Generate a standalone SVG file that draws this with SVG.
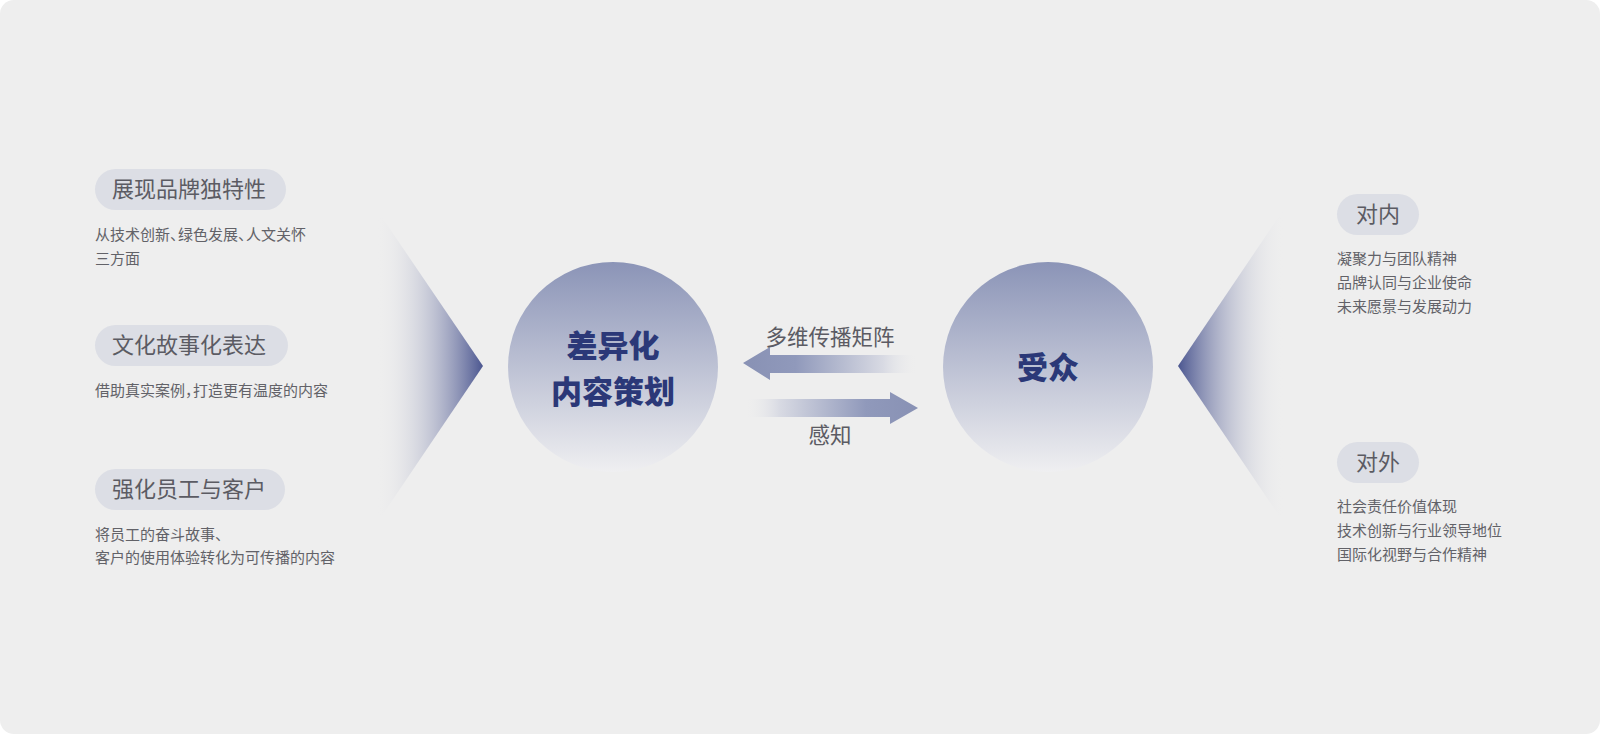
<svg xmlns="http://www.w3.org/2000/svg" width="1600" height="734" viewBox="0 0 1600 734">
<defs>
<linearGradient id="gCircle" x1="0" y1="0" x2="0" y2="1">
<stop offset="0" stop-color="#8b94b7"/>
<stop offset="1" stop-color="#efeff1"/>
</linearGradient>
<linearGradient id="gTriL" gradientUnits="userSpaceOnUse" x1="377" y1="0" x2="483" y2="0">
<stop offset="0" stop-color="#eeeeee" stop-opacity="0"/>
<stop offset="1" stop-color="#4b5690"/>
</linearGradient>
<linearGradient id="gTriR" gradientUnits="userSpaceOnUse" x1="1284" y1="0" x2="1178" y2="0">
<stop offset="0" stop-color="#eeeeee" stop-opacity="0"/>
<stop offset="1" stop-color="#4b5690"/>
</linearGradient>
<linearGradient id="gArrL" gradientUnits="userSpaceOnUse" x1="743" y1="0" x2="918" y2="0">
<stop offset="0" stop-color="#8891b4"/>
<stop offset="0.3" stop-color="#9099bb"/>
<stop offset="0.8" stop-color="#d8dae3"/>
<stop offset="1" stop-color="#eeeeee" stop-opacity="0"/>
</linearGradient>
<linearGradient id="gArrR" gradientUnits="userSpaceOnUse" x1="918" y1="0" x2="745" y2="0">
<stop offset="0" stop-color="#8891b4"/>
<stop offset="0.3" stop-color="#9099bb"/>
<stop offset="0.8" stop-color="#d8dae3"/>
<stop offset="1" stop-color="#eeeeee" stop-opacity="0"/>
</linearGradient>
</defs>
<style>
.pill{fill:#dcdee5}
.pt{font-family:"Noto Sans CJK SC","Noto Sans",sans-serif;font-size:22px;fill:#5b5b63}
.d{font-family:"Noto Sans CJK SC","Noto Sans",sans-serif;font-size:15px;fill:#626268}
.np{letter-spacing:-7px}
.ct{font-family:"Noto Sans CJK SC","Noto Sans",sans-serif;font-size:31px;font-weight:900;fill:#2b3878;text-anchor:middle}
.al{font-family:"Noto Sans CJK SC","Noto Sans",sans-serif;font-size:21.5px;fill:#5b5b63;text-anchor:middle}
</style>
<rect x="0" y="0" width="1600" height="734" fill="#ffffff"/>
<rect x="0" y="0" width="1600" height="734" rx="14" fill="#eeeeee"/>

<g id="left-wedge"><polygon points="377,210 483,366 377,523" fill="url(#gTriL)"/></g>
<g id="right-wedge"><polygon points="1284,209 1178,366 1284,523" fill="url(#gTriR)"/></g>

<g id="item-brand">
<rect class="pill" x="95" y="169" width="191" height="41" rx="20.5"/>
<text class="pt" x="112" y="197">展现品牌独特性</text>
<text class="d" x="95" y="240">从技术创新<tspan class="np">、</tspan>绿色发展<tspan class="np">、</tspan>人文关怀</text>
<text class="d" x="95" y="264">三方面</text>
</g>
<g id="item-culture">
<rect class="pill" x="95" y="325" width="193" height="41" rx="20.5"/>
<text class="pt" x="112" y="353">文化故事化表达</text>
<text class="d" x="95" y="396">借助真实案例<tspan class="np">，</tspan>打造更有温度的内容</text>
</g>
<g id="item-staff">
<rect class="pill" x="95" y="469" width="190" height="41" rx="20.5"/>
<text class="pt" x="112" y="497">强化员工与客户</text>
<text class="d" x="95" y="540">将员工的奋斗故事、</text>
<text class="d" x="95" y="563">客户的使用体验转化为可传播的内容</text>
</g>

<g id="node-content">
<circle cx="613" cy="367" r="105" fill="url(#gCircle)"/>
<text class="ct" x="613" y="357">差异化</text>
<text class="ct" x="613" y="403">内容策划</text>
</g>
<g id="node-audience">
<circle cx="1048" cy="367" r="105" fill="url(#gCircle)"/>
<text class="ct" x="1048" y="379">受众</text>
</g>

<g id="connectors">
<polygon points="743,363 770,347 770,355 918,355 918,373 770,373 770,380" fill="url(#gArrL)"/>
<text class="al" x="830" y="345">多维传播矩阵</text>
<polygon points="918,408 890,392 890,399 745,399 745,417 890,417 890,424" fill="url(#gArrR)"/>
<text class="al" x="830" y="443">感知</text>
</g>

<g id="item-internal">
<rect class="pill" x="1337" y="194" width="82" height="41" rx="20.5"/>
<text class="pt" x="1378" y="222" text-anchor="middle">对内</text>
<text class="d" x="1337" y="264">凝聚力与团队精神</text>
<text class="d" x="1337" y="288">品牌认同与企业使命</text>
<text class="d" x="1337" y="312">未来愿景与发展动力</text>
</g>
<g id="item-external">
<rect class="pill" x="1337" y="442" width="82" height="41" rx="20.5"/>
<text class="pt" x="1378" y="470" text-anchor="middle">对外</text>
<text class="d" x="1337" y="512">社会责任价值体现</text>
<text class="d" x="1337" y="536">技术创新与行业领导地位</text>
<text class="d" x="1337" y="560">国际化视野与合作精神</text>
</g>
</svg>
